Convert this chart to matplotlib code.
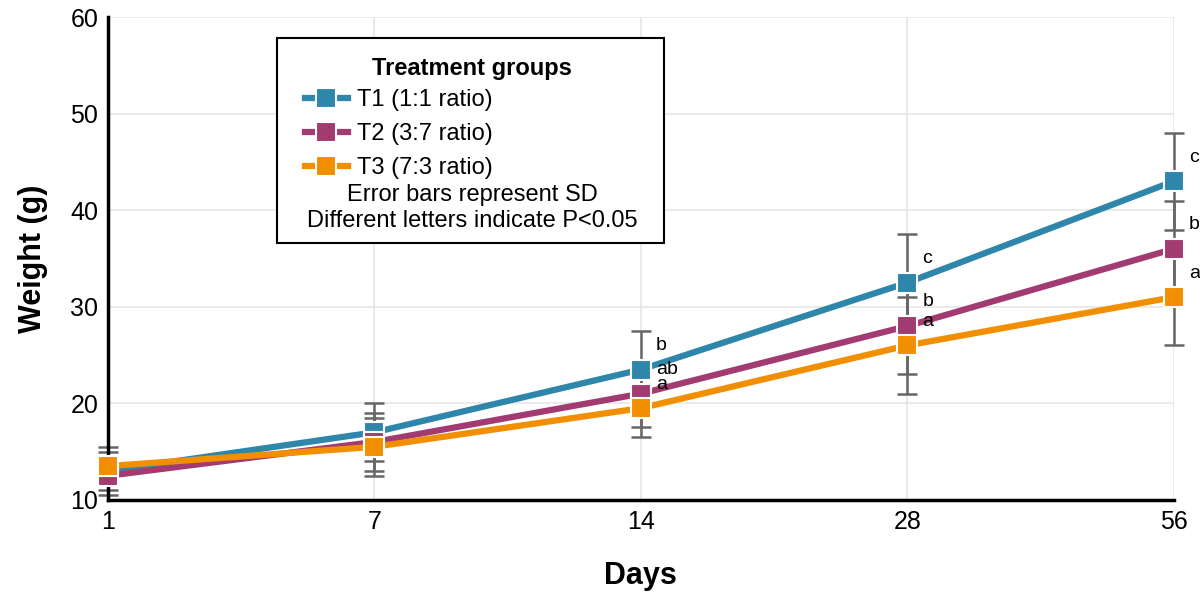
import numpy as np
import matplotlib.pyplot as plt
from matplotlib.patches import Rectangle

days = ["1", "7", "14", "28", "56"]
groups = ["T1 (1:1 ratio)", "T2 (3:7 ratio)", "T3 (7:3 ratio)"]
colors = ["#2E86AB", "#A23B72", "#F18F01"]

t1_mean = [13.0, 17.0, 23.5, 32.5, 43.0]
t2_mean = [12.5, 16.0, 21.0, 28.0, 36.0]
t3_mean = [13.5, 15.5, 19.5, 26.0, 31.0]
t1_sd = [2, 3, 4, 5, 5]
t2_sd = [2, 3, 3.5, 5, 5]
t3_sd = [2, 3, 3, 5, 5]

t1_letters = ["", "", "b", "c", "c"]
t2_letters = ["", "", "ab", "b", "b"]
t3_letters = ["", "", "a", "a", "a"]

means = [t1_mean, t2_mean, t3_mean]
sds = [t1_sd, t2_sd, t3_sd]
letters = [t1_letters, t2_letters, t3_letters]

plt.rcParams['font.family'] = ['Liberation Sans', 'DejaVu Sans']

fig = plt.figure(figsize=(12, 5.93), dpi=100)
ax = fig.add_axes([0.09, 0.157, 0.888, 0.814])
x = np.arange(len(days))

# error bars first, lines on top
for i in range(3):
    ax.errorbar(x, means[i], yerr=sds[i], fmt='none', ecolor='#666666',
                elinewidth=1.8, capsize=7, capthick=1.8, zorder=2, clip_on=False)
handles = []
for i in range(3):
    h, = ax.plot(x, means[i], color=colors[i], lw=4.5, marker='s', ms=14,
                 mec='white', mew=1.5, label=groups[i], zorder=3, clip_on=False)
    handles.append(h)
    for j in range(len(days)):
        if letters[i][j]:
            ax.annotate(letters[i][j], (x[j], means[i][j] + 2.5), xytext=(11, 0),
                        textcoords='offset points', ha='left', va='center',
                        fontsize=14, zorder=4)

ax.set_xlim(0, 4)
ax.set_ylim(10, 60)
ax.set_xticks(x)
ax.set_xticklabels(days)
ax.set_yticks(np.arange(10, 61, 10))
ax.tick_params(axis='both', labelsize=18, length=0, pad=7)
ax.grid(True, color='#e6e6e6', lw=1.2)
ax.set_axisbelow(True)
for s in ['top', 'right']:
    ax.spines[s].set_visible(False)
for s in ['left', 'bottom']:
    ax.spines[s].set_linewidth(2.5)
    ax.spines[s].set_color('black')
ax.set_xlabel("Days", fontsize=22, fontweight='bold', labelpad=20)
ax.set_ylabel("Weight (g)", fontsize=22, fontweight='bold', labelpad=16)

# legend box with title, entries and notes
ax.add_patch(Rectangle((0.159, 0.532), 0.363, 0.425, transform=ax.transAxes,
                       fill=True, fc='white', ec='black', lw=1.5, zorder=5))
ax.text(0.3415, 0.894, "Treatment groups", transform=ax.transAxes,
        ha='center', va='center', fontsize=17, fontweight='bold', zorder=6)
leg = ax.legend(handles=handles, loc='center left', bbox_to_anchor=(0.185, 0.758),
                frameon=False, fontsize=17, handlelength=1.8, handletextpad=0.4,
                labelspacing=0.5, borderaxespad=0, borderpad=0)
leg.set_zorder(6)
ax.text(0.3415, 0.632, "Error bars represent SD", transform=ax.transAxes,
        ha='center', va='center', fontsize=17, zorder=6)
ax.text(0.3415, 0.578, "Different letters indicate P<0.05", transform=ax.transAxes,
        ha='center', va='center', fontsize=17, zorder=6)

fig.savefig("out.png", dpi=100)
